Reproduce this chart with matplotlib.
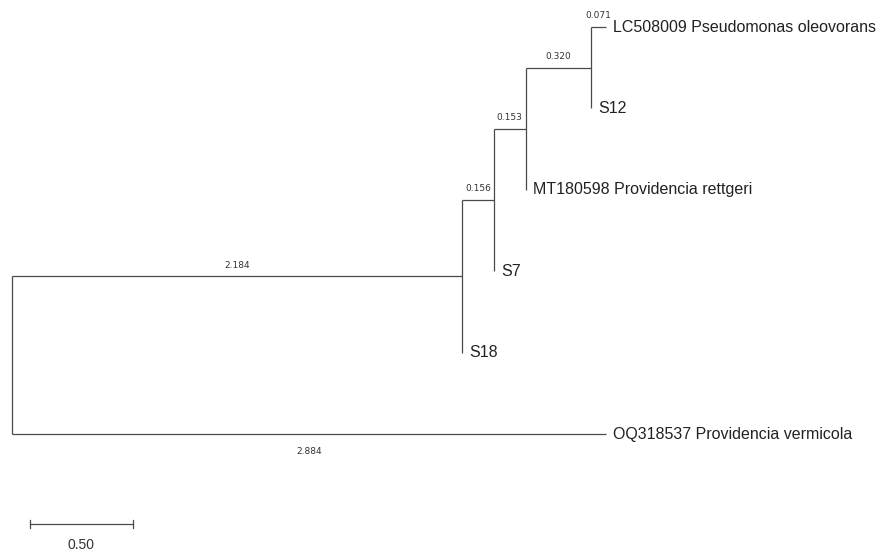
import matplotlib.pyplot as plt

# tips listed top to bottom
tips = ["LC508009 Pseudomonas oleovorans", "S12", "MT180598 Providencia rettgeri",
        "S7", "S18", "OQ318537 Providencia vermicola"]

# internal nodes: name -> (children, branch lengths to children)
nodes = {
    "D": (["LC508009 Pseudomonas oleovorans", "S12"], [0.071, 0.0]),
    "C": (["D", "MT180598 Providencia rettgeri"], [0.320, 0.0]),
    "B": (["C", "S7"], [0.153, 0.0]),
    "A": (["B", "S18"], [0.156, 0.0]),
    "root": (["A", "OQ318537 Providencia vermicola"], [2.184, 2.884]),
}
# branch whose length label sits under the line
below_labels = ["OQ318537 Providencia vermicola"]
scale_len = 0.50

line_col = "#4a4a4a"
px_unit = 206.0
px_tip = 81.4


def layout(name, x, pos):
    if name in tips:
        pos[name] = (x, tips.index(name))
        return tips.index(name)
    kids, lens = nodes[name]
    ys = []
    for k, l in zip(kids, lens):
        ys.append(layout(k, x + l, pos))
    y = (ys[0] + ys[1]) / 2.0
    pos[name] = (x, y)
    return y


pos = {}
layout("root", 0.0, pos)

fig = plt.figure(figsize=(8.87, 5.55), dpi=100)
ax = fig.add_axes([0, 0, 1, 1])
ax.set_xlim(-12 / px_unit, (887 - 12) / px_unit)
ax.set_ylim((555 - 27) / px_tip, -27 / px_tip)
ax.axis("off")

for name, (kids, lens) in nodes.items():
    x, y = pos[name]
    ky = [pos[k][1] for k in kids]
    ax.plot([x, x], [min(ky), max(ky)], color=line_col, lw=0.9, solid_capstyle="butt")
    for k, l in zip(kids, lens):
        kx, kyy = pos[k]
        if l > 0:
            ax.plot([x, kx], [kyy, kyy], color=line_col, lw=0.9, solid_capstyle="butt")
            off = -17 if k in below_labels else 11
            ax.annotate(f"{l:.3f}", ((x + kx) / 2, kyy), xytext=(0, off),
                        textcoords="offset pixels", ha="center", va="center",
                        fontsize=6.5, color="#333333", family="DejaVu Sans")

for t in tips:
    x, y = pos[t]
    ax.annotate(t, (x, y), xytext=(7, 0), textcoords="offset pixels",
                ha="left", va="center", fontsize=11.5, color="#222222",
                family="Liberation Sans")

# scale bar
sx0 = (30 - 12) / px_unit
sy = (524 - 27) / px_tip
ax.plot([sx0, sx0 + scale_len], [sy, sy], color=line_col, lw=0.9)
for xx in [sx0, sx0 + scale_len]:
    ax.plot([xx, xx], [sy - 0.045, sy + 0.045], color=line_col, lw=0.9)
ax.annotate(f"{scale_len:.2f}", (sx0 + scale_len / 2, sy), xytext=(0, -21),
            textcoords="offset pixels", ha="center", va="center",
            fontsize=10, color="#333333", family="Liberation Sans")

fig.savefig("out.png", dpi=100, facecolor="white")
